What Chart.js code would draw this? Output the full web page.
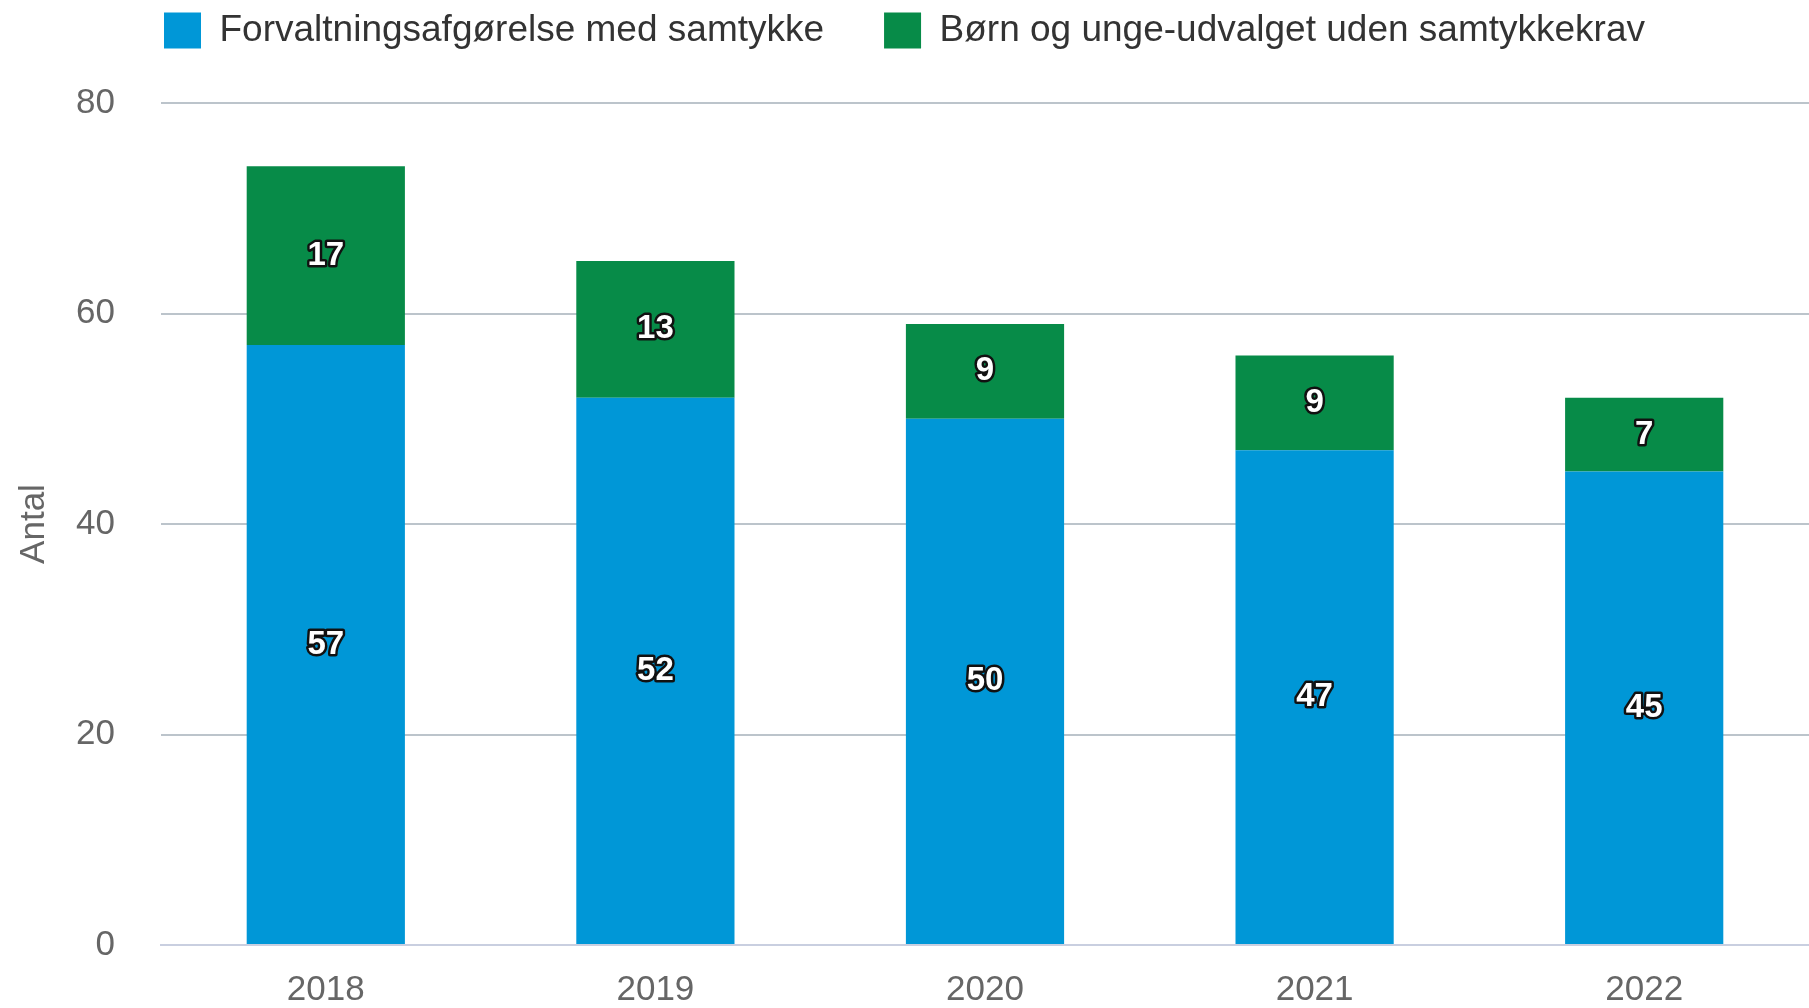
<!DOCTYPE html>
<html>
<head>
<meta charset="utf-8">
<script src="https://cdn.jsdelivr.net/npm/chart.js@4"></script>
<style>
  html, body { margin: 0; padding: 0; background: #fff; }
  #wrap { width: 1809px; height: 1008px; }
</style>
</head>
<body>
<div id="wrap"><canvas id="myChart" width="1809" height="1008"></canvas></div>
<script>
"use strict";

// data
const years = ['2018', '2019', '2020', '2021', '2022'];
const forvaltning = [57, 52, 50, 47, 45];
const udvalget = [17, 13, 9, 9, 7];
const seriesNames = ['Forvaltningsafgørelse med samtykke', 'Børn og unge-udvalget uden samtykkekrav'];
const yTicks = [0, 20, 40, 60, 80];

const fontFamily = "Arial, 'Liberation Sans', sans-serif";

// empty box between the legend and the plot
const legendGap = {
    id: 'legendGap',
    beforeInit(chart) {
        Chart.layouts.addBox(chart, {
            position: 'top',
            weight: 500,
            fullSize: true,
            options: {},
            isHorizontal() { return true; },
            update(maxWidth) { this.width = maxWidth; this.height = 44; },
            draw() {}
        });
    }
};

// white numbers with a dark outline in the middle of each segment
const barLabels = {
    id: 'barLabels',
    afterDatasetsDraw(chart) {
        const ctx = chart.ctx;
        ctx.save();
        ctx.font = "bold 33px " + fontFamily;
        ctx.textAlign = 'center';
        ctx.textBaseline = 'middle';
        ctx.lineJoin = 'round';
        ctx.lineWidth = 5;
        ctx.strokeStyle = '#111';
        ctx.fillStyle = '#fff';
        chart.data.datasets.forEach((ds, i) => {
            chart.getDatasetMeta(i).data.forEach((bar, j) => {
                let y = (bar.y + bar.base) / 2;
                let txt = String(ds.data[j]);
                ctx.strokeText(txt, bar.x, y);
                ctx.fillText(txt, bar.x, y);
            });
        });
        ctx.restore();
    }
};

let ctx = document.getElementById('myChart').getContext('2d');
let chart = new Chart(ctx, {
    type: 'bar',
    data: {
        labels: years,
        datasets: [
            {
                label: seriesNames[0],
                data: forvaltning,
                backgroundColor: '#0097d7',
                barPercentage: 0.48,
                categoryPercentage: 1
            },
            {
                label: seriesNames[1],
                data: udvalget,
                backgroundColor: '#078b48',
                barPercentage: 0.48,
                categoryPercentage: 1
            }
        ]
    },
    plugins: [legendGap, barLabels],
    options: {
        responsive: false,
        animation: false,
        layout: {
            padding: { top: -48, left: 0, right: 0, bottom: 0 }
        },
        plugins: {
            legend: {
                position: 'top',
                labels: {
                    boxWidth: 37,
                    boxHeight: 36,
                    padding: 60,
                    color: '#333',
                    font: { family: fontFamily, size: 37 }
                }
            },
            tooltip: { enabled: false }
        },
        scales: {
            x: {
                stacked: true,
                grid: { display: false, drawTicks: false },
                border: { display: true, color: '#c9cfe0', width: 2 },
                ticks: {
                    color: '#666',
                    padding: 24,
                    font: { family: fontFamily, size: 35 }
                },
                afterFit(scale) { scale.height = 63; }
            },
            y: {
                stacked: true,
                min: 0,
                max: 80,
                afterBuildTicks(scale) {
                    scale.ticks = yTicks.map(v => ({ value: v }));
                },
                grid: { color: '#bcc4cb', lineWidth: 2, drawTicks: false },
                border: { display: false },
                ticks: {
                    color: '#666',
                    padding: 46,
                    font: { family: fontFamily, size: 35, lineHeight: 0.8 }
                },
                title: {
                    display: true,
                    text: 'Antal',
                    color: '#666',
                    padding: 13,
                    font: { family: fontFamily, size: 35 }
                },
                afterFit(scale) { scale.width = 161; }
            }
        }
    }
});
</script>
</body>
</html>
